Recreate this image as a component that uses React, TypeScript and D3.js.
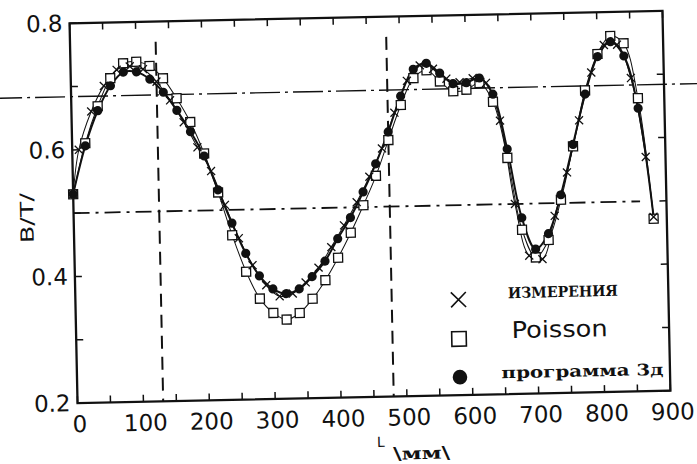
import React from 'react';
import * as d3 from 'd3';

// L, mm - grid of the computed curves
const posCalc = [0, 20, 40, 60, 80, 100, 120, 140, 160, 180, 200, 220, 240, 260, 280, 300, 320, 340, 360, 380, 400, 420, 440, 460, 480, 500, 520, 540, 560, 580, 600, 620, 640, 660, 680, 700, 720, 740, 760, 780, 800, 820, 840, 860, 880];
// программа 3д (filled circles)
const prog3d = [0.530, 0.606, 0.661, 0.700, 0.721, 0.721, 0.709, 0.688, 0.659, 0.625, 0.586, 0.532, 0.479, 0.431, 0.395, 0.374, 0.366, 0.373, 0.392, 0.416, 0.451, 0.484, 0.524, 0.568, 0.618, 0.674, 0.716, 0.725, 0.709, 0.692, 0.693, 0.700, 0.674, 0.587, 0.478, 0.428, 0.452, 0.513, 0.592, 0.671, 0.730, 0.753, 0.730, 0.647, 0.475];
// Poisson (open squares)
const poisson = [0.530, 0.610, 0.668, 0.712, 0.735, 0.737, 0.730, 0.710, 0.678, 0.640, 0.590, 0.528, 0.460, 0.402, 0.359, 0.336, 0.325, 0.335, 0.357, 0.386, 0.421, 0.460, 0.503, 0.549, 0.605, 0.660, 0.702, 0.714, 0.696, 0.680, 0.682, 0.692, 0.662, 0.573, 0.459, 0.415, 0.442, 0.505, 0.589, 0.677, 0.734, 0.762, 0.750, 0.663, 0.472];
// ИЗМЕРЕНИЯ (crosses)
const posMeas = [0, 10, 30, 50, 70, 90, 110, 130, 150, 170, 190, 210, 230, 250, 270, 290, 310, 330, 350, 370, 390, 410, 430, 450, 470, 490, 510, 530, 550, 570, 590, 610, 630, 650, 670, 690, 710, 730, 750, 770, 790, 810, 830, 850, 870, 880];
const measured = [0.530, 0.600, 0.660, 0.700, 0.725, 0.730, 0.725, 0.705, 0.675, 0.640, 0.600, 0.562, 0.508, 0.455, 0.412, 0.380, 0.362, 0.366, 0.383, 0.406, 0.438, 0.472, 0.508, 0.548, 0.592, 0.648, 0.698, 0.722, 0.716, 0.700, 0.694, 0.700, 0.692, 0.632, 0.500, 0.418, 0.412, 0.480, 0.548, 0.630, 0.705, 0.748, 0.748, 0.695, 0.570, 0.475];

const xLabels = [0, 100, 200, 300, 400, 500, 600, 700, 800, 900];
const yLabels = [0.2, 0.4, 0.6, 0.8];

// hand drawn guide lines on the sheet
const hGuides = [
  { at: 0.684, from: -120, to: 960, dash: '30 5 3 5', w: 1.4 },
  { at: 0.5, from: 0, to: 860, dash: '16 6 3 6', w: 1.8 },
];
const vGuides = [
  { at: 130, from: 0.2, to: 0.768 },
  { at: 480, from: 0.2, to: 0.768 },
];

export default function App() {
  const W = 697, H = 464;
  const left = 73.5, right = 666.5, top = 17, bottom = 397;
  const x = d3.scaleLinear().domain([0, 900]).range([left, right]);
  const y = d3.scaleLinear().domain([0.2, 0.8]).range([bottom, top]);

  const calc = posCalc.map((p, i) => ({ p, c: prog3d[i], s: poisson[i] }));
  const meas = posMeas.map((p, i) => ({ p, v: measured[i] }));

  const lineC = d3.line<any>().x(d => x(d.p)).y(d => y(d.c)).curve(d3.curveCatmullRom);
  const lineS = d3.line<any>().x(d => x(d.p)).y(d => y(d.s)).curve(d3.curveCatmullRom);
  const lineM = d3.line<any>().x(d => x(d.p)).y(d => y(d.v)).curve(d3.curveCatmullRom);

  const xMinor = x.ticks(18);
  const yMinor = y.ticks(6);
  const font = '"DejaVu Sans", "Liberation Sans", sans-serif';
  const serif = '"DejaVu Serif", serif';
  const ink = '#111';

  return (
    <svg width={W} height={H} style={{ position: 'absolute', left: 0, top: 0, background: '#fff' }}>
      <g transform="rotate(-1.2 370 207)">
        {/* guides */}
        {hGuides.map((g, i) => (
          <line key={'h' + i} x1={x(g.from)} x2={x(g.to)} y1={y(g.at)} y2={y(g.at)}
            stroke={ink} strokeWidth={g.w} strokeDasharray={g.dash} />
        ))}
        {vGuides.map((g, i) => (
          <line key={'v' + i} x1={x(g.at)} x2={x(g.at)} y1={y(g.to)} y2={y(g.from)}
            stroke={ink} strokeWidth={2} strokeDasharray="13 8" />
        ))}

        {/* frame */}
        <rect x={left} y={top} width={right - left} height={bottom - top} fill="none" stroke={ink} strokeWidth={2.3} />
        {xMinor.map(t => (
          <g key={'xt' + t}>
            <line x1={x(t)} x2={x(t)} y1={bottom} y2={bottom - 7} stroke={ink} strokeWidth={1.5} />
            <line x1={x(t)} x2={x(t)} y1={top} y2={top + 7} stroke={ink} strokeWidth={1.5} />
          </g>
        ))}
        {yMinor.map(t => (
          <g key={'yt' + t}>
            <line x1={left} x2={left + 7} y1={y(t)} y2={y(t)} stroke={ink} strokeWidth={1.5} />
            <line x1={right} x2={right - 7} y1={y(t)} y2={y(t)} stroke={ink} strokeWidth={1.5} />
          </g>
        ))}
        {xLabels.map(t => (
          <text key={'xl' + t} x={x(t) + 2} y={bottom + 29} textAnchor="middle" fontFamily={font} fontSize={23} fill={ink}>{t}</text>
        ))}
        {yLabels.map(t => (
          <text key={'yl' + t} x={left - 7} y={y(t) + 8} textAnchor="end" fontFamily={font} fontSize={23} fill={ink}>{t.toFixed(1)}</text>
        ))}

        {/* axis titles */}
        <text transform="translate(33,211) rotate(-90)" textAnchor="middle" fontFamily={font} fontSize={18} fill={ink}
          textLength={50} lengthAdjust="spacingAndGlyphs">B/T/</text>
        <text x={372} y={447} fontFamily={font} fontSize={14} fill={ink}>L</text>
        <text x={388} y={460} fontFamily={serif} fontWeight="bold" fontSize={17} fill={ink}
          textLength={57} lengthAdjust="spacingAndGlyphs">\мм\</text>

        {/* series lines */}
        <path d={lineS(calc) || ''} fill="none" stroke={ink} strokeWidth={1} />
        <path d={lineM(meas) || ''} fill="none" stroke={ink} strokeWidth={1} />
        <path d={lineC(calc) || ''} fill="none" stroke={ink} strokeWidth={2} />

        {/* markers */}
        {calc.map(d => (
          <rect key={'s' + d.p} x={x(d.p) - 4.5} y={y(d.s) - 4.5} width={9} height={9} fill="#fff" stroke={ink} strokeWidth={1.3} />
        ))}
        {calc.filter(d => d.p < 880).map(d => (
          <circle key={'c' + d.p} cx={x(d.p)} cy={y(d.c)} r={4.6} fill={ink} />
        ))}
        {meas.map(d => (
          <path key={'m' + d.p} d={`M${x(d.p) - 4},${y(d.v) - 4}L${x(d.p) + 4},${y(d.v) + 4}M${x(d.p) - 4},${y(d.v) + 4}L${x(d.p) + 4},${y(d.v) - 4}`}
            stroke={ink} strokeWidth={1.3} fill="none" />
        ))}

        {/* legend */}
        <path d="M449,294 L464,309 M449,309 L464,294" stroke={ink} strokeWidth={1.6} fill="none" />
        <text x={506} y={301} fontFamily={serif} fontWeight="bold" fontSize={15} fill={ink}
          textLength={110} lengthAdjust="spacingAndGlyphs">ИЗМЕРЕНИЯ</text>
        <rect x={449} y={333.5} width={14.5} height={14.5} fill="#fff" stroke={ink} strokeWidth={1.6} />
        <text x={509} y={341} fontFamily={font} fontSize={23} fill={ink}
          textLength={96} lengthAdjust="spacingAndGlyphs">Poisson</text>
        <circle cx={456.4} cy={379} r={7.3} fill={ink} />
        <text x={498} y={381} fontFamily={serif} fontWeight="bold" fontSize={16} fill={ink}
          textLength={162} lengthAdjust="spacingAndGlyphs">программа 3д</text>
      </g>
    </svg>
  );
}
